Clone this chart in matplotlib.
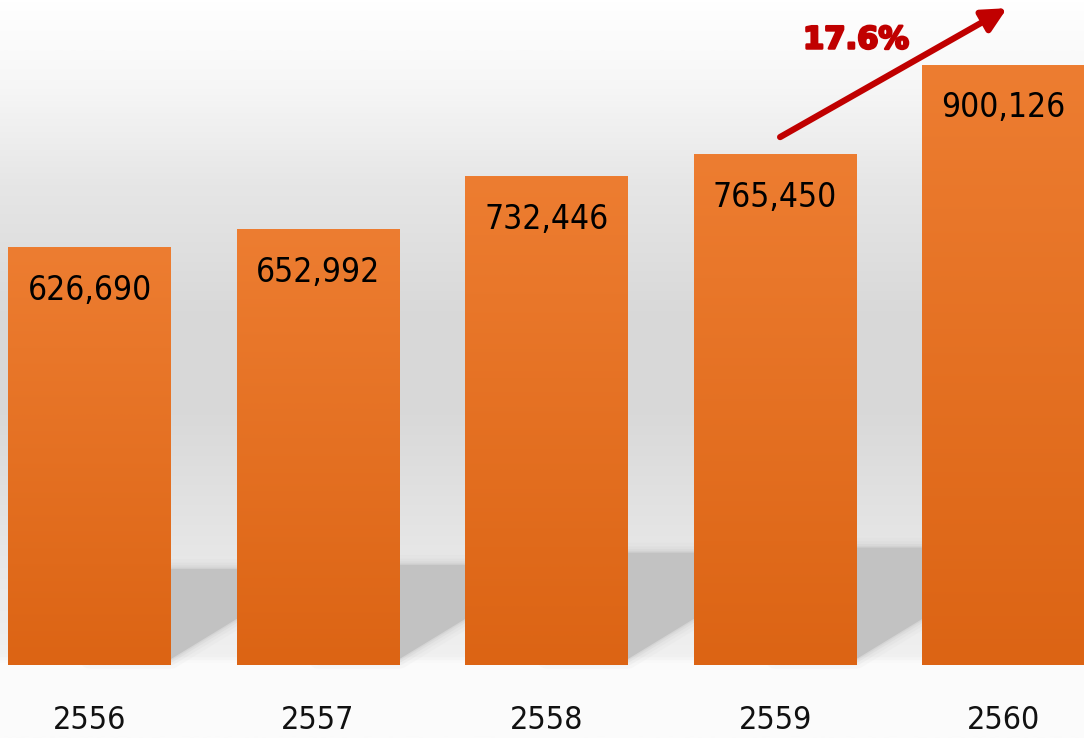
import numpy as np
import matplotlib
matplotlib.use('Agg')
import matplotlib.pyplot as plt
import matplotlib.patheffects as pe
from matplotlib.colors import LinearSegmentedColormap
from matplotlib.patches import Polygon

years = ['2556', '2557', '2558', '2559', '2560']
values = [626690, 652992, 732446, 765450, 900126]
growth_label = '17.6%'

plt.rcParams['font.family'] = ['DejaVu Sans']
plt.rcParams['font.stretch'] = 'condensed'

fig = plt.figure(figsize=(10.84, 7.38), dpi=100)
ax = fig.add_axes([0, 0, 1, 1])
x = np.arange(len(years))
ax.set_xlim(-0.392, 4.352)
ax.set_ylim(-109500, 997000)
ax.axis('off')

# background: light at top, grey band in middle, near-white floor below bars
stops = [(0.0, '#fbfbfb'), (0.10, '#fcfcfc'), (0.11, '#f0f0f0'), (0.26, '#e6e6e6'),
         (0.45, '#d8d8d8'), (0.58, '#d9d9d9'), (0.75, '#e6e6e6'), (0.88, '#f6f6f6'),
         (1.0, '#ffffff')]
bg = LinearSegmentedColormap.from_list('bg', stops)
grad = np.linspace(0, 1, 512).reshape(-1, 1)
ax.imshow(grad, cmap=bg, aspect='auto', extent=(0, 1, 0, 1), origin='lower',
          transform=ax.transAxes, zorder=0)

width = 0.713
bars = ax.bar(x, values, width=width, color='none', zorder=3)

# soft shadows cast to the right of each bar
px = 1499.0
for i in range(len(values) - 1):
    xr = x[i] + width / 2
    xn = x[i + 1] - width / 2
    top = 0.23 * values[i]
    pts = [(x[i], top), (x[i + 1], top), (x[i + 1], 40 * px),
           (xn, 46 * px), (xr, 6 * px), (x[i], 6 * px)]
    for lw, a in [(14, 0.08), (9, 0.12), (5, 0.2), (2, 0.3)]:
        ax.add_patch(Polygon(pts, closed=True, facecolor='none', edgecolor='#c2c2c2',
                             lw=lw, alpha=a, joinstyle='round', zorder=1))
    ax.add_patch(Polygon(pts, closed=True, facecolor='#c2c2c2', edgecolor='none', zorder=2))

# orange gradient fill for each bar
orange = LinearSegmentedColormap.from_list('or', ['#dc6414', '#ed7d31'])
for b in bars:
    x0, y0 = b.get_x(), b.get_y()
    im = ax.imshow(grad, cmap=orange, aspect='auto', origin='lower',
                   extent=(x0, x0 + b.get_width(), y0, y0 + b.get_height()), zorder=4)
    im.set_clip_path(b)

for xi, v, yr in zip(x, values, years):
    ax.annotate(f'{v:,}', xy=(xi, v), xytext=(0, -31), textcoords='offset points',
                ha='center', va='center', fontsize=24, color='black', zorder=5)
    ax.annotate(yr, xy=(xi, 0), xytext=(0, -40), textcoords='offset points',
                ha='center', va='center', fontsize=23, color='#111111', zorder=5)

# growth arrow between the last two years
ax.annotate('', xy=(x[4] + 0.015, values[4] * 1.094), xytext=(x[3] + 0.022, values[3] * 1.034),
            arrowprops=dict(arrowstyle='-|>', color='#c00000', lw=4.5, mutation_scale=36,
                            shrinkA=0, shrinkB=0), zorder=6)
ax.text(x[3] + 0.354, values[4] * 1.041, growth_label, ha='center', va='center',
        fontsize=22, fontweight='bold', fontstretch='normal', color='#c00000', zorder=6,
        path_effects=[pe.withStroke(linewidth=1.8, foreground='#c00000')])

fig.savefig('out.png', dpi=100)
